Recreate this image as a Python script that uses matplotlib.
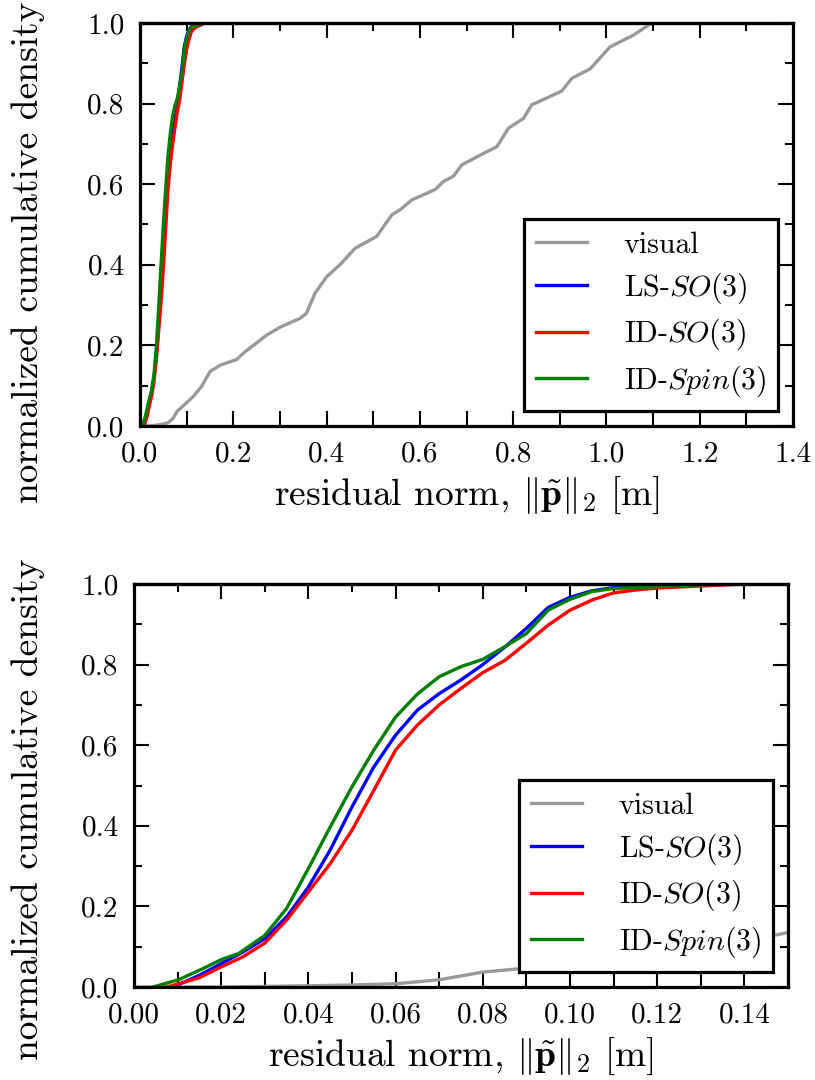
import matplotlib
matplotlib.use('Agg')
import matplotlib.pyplot as plt
from matplotlib.ticker import MultipleLocator, FormatStrFormatter

plt.rcParams['font.family'] = 'cmr10'
plt.rcParams['mathtext.fontset'] = 'cm'
plt.rcParams['axes.unicode_minus'] = False
plt.rcParams['axes.formatter.use_mathtext'] = True

# CDF curves (x = residual norm in m, y = cumulative density)
visual_x = [0.0, 0.02, 0.04, 0.05, 0.06, 0.07, 0.08, 0.09, 0.10, 0.114, 0.132, 0.150, 0.172,
            0.207, 0.225, 0.272, 0.300, 0.343, 0.357, 0.375, 0.400, 0.432, 0.461, 0.507,
            0.540, 0.557, 0.583, 0.633, 0.650, 0.672, 0.690, 0.729, 0.765, 0.790, 0.822,
            0.840, 0.904, 0.926, 0.965, 1.008, 1.058, 1.097]
visual_y = [0.0, 0.0, 0.003, 0.005, 0.008, 0.018, 0.037, 0.047, 0.058, 0.073, 0.098, 0.135, 0.151,
            0.165, 0.184, 0.226, 0.245, 0.267, 0.28, 0.329, 0.37, 0.404, 0.441, 0.47,
            0.524, 0.536, 0.561, 0.587, 0.606, 0.62, 0.648, 0.672, 0.693, 0.739, 0.763,
            0.797, 0.831, 0.863, 0.886, 0.941, 0.970, 1.0]

ls_x = [0.0083, 0.0102, 0.015, 0.020, 0.025, 0.030, 0.035, 0.040, 0.045, 0.050, 0.055, 0.060, 0.065,
        0.070, 0.075, 0.080, 0.085, 0.090, 0.095, 0.100, 0.105, 0.110, 0.115, 0.120, 0.130, 0.140]
ls_y = [0.0, 0.006, 0.029, 0.058, 0.087, 0.12, 0.174, 0.248, 0.34, 0.447, 0.546, 0.625, 0.687,
        0.728, 0.762, 0.80, 0.843, 0.89, 0.942, 0.967, 0.983, 0.991, 0.995, 0.997, 0.999, 1.0]

idso_x = [0.0075, 0.0102, 0.015, 0.020, 0.025, 0.030, 0.035, 0.040, 0.045, 0.050, 0.055, 0.060, 0.065,
          0.070, 0.075, 0.080, 0.085, 0.090, 0.095, 0.100, 0.105, 0.110, 0.115, 0.120, 0.130, 0.140]
idso_y = [0.0, 0.008, 0.023, 0.05, 0.075, 0.109, 0.166, 0.236, 0.306, 0.389, 0.488, 0.588, 0.65,
          0.70, 0.741, 0.78, 0.81, 0.853, 0.898, 0.935, 0.96, 0.978, 0.985, 0.99, 0.995, 1.0]

idspin_x = [0.0044, 0.0102, 0.0159, 0.020, 0.024, 0.030, 0.035, 0.040, 0.045, 0.050, 0.055, 0.060,
            0.065, 0.070, 0.075, 0.080, 0.085, 0.090, 0.095, 0.100, 0.105, 0.110, 0.120, 0.130, 0.140]
idspin_y = [0.0, 0.018, 0.046, 0.068, 0.083, 0.128, 0.195, 0.294, 0.397, 0.497, 0.588, 0.67,
            0.727, 0.77, 0.795, 0.813, 0.844, 0.877, 0.935, 0.962, 0.981, 0.989, 0.993, 0.998, 1.0]

labels = ['visual', r'LS-$SO(3)$', r'ID-$SO(3)$', r'ID-$Spin(3)$']
colors = ['#999999', '#0000ff', '#ff0000', '#007f00']

fig = plt.figure(figsize=(8.15, 10.8), dpi=100)
ax1 = fig.add_axes([140 / 815, 1 - 426 / 1080, 653 / 815, 403 / 1080])
ax2 = fig.add_axes([134 / 815, 1 - 987 / 1080, 654 / 815, 403 / 1080])


def draw(ax, xmax, xmajor, xminor, fmt, ylab_x, ylab_y):
    series = [(visual_x, visual_y), (ls_x, ls_y), (idso_x, idso_y), (idspin_x, idspin_y)]
    for (xs, ys), c, lab in zip(series, colors, labels):
        ax.plot(xs, ys, color=c, lw=2.4, label=lab)
    ax.set_xlim(0, xmax)
    ax.set_ylim(0, 1.0)
    ax.xaxis.set_major_locator(MultipleLocator(xmajor))
    ax.xaxis.set_minor_locator(MultipleLocator(xminor))
    ax.xaxis.set_major_formatter(FormatStrFormatter(fmt))
    ax.yaxis.set_major_locator(MultipleLocator(0.2))
    ax.yaxis.set_minor_locator(MultipleLocator(0.1))
    ax.yaxis.set_major_formatter(FormatStrFormatter('%.1f'))
    for s in ax.spines.values():
        s.set_linewidth(2.3)
    ax.tick_params(which='both', direction='in', width=1.5, labelsize=21, pad=11)
    ax.tick_params(axis='y', which='both', left=True, right=True)
    ax.tick_params(which='major', length=11)
    ax.tick_params(axis='y', which='minor', length=5.5)
    # bottom ticks all long, top ones like the y axis
    ax.tick_params(axis='x', which='minor', length=11, top=False, bottom=True)
    ax.tick_params(axis='x', which='major', top=False, bottom=True)
    top = ax.secondary_xaxis('top')
    top.xaxis.set_major_locator(MultipleLocator(xmajor))
    top.xaxis.set_minor_locator(MultipleLocator(xminor))
    top.tick_params(which='both', direction='in', width=1.5, labeltop=False)
    top.tick_params(which='major', length=11)
    top.tick_params(which='minor', length=5.5)
    top.spines['top'].set_linewidth(2.3)
    ax.set_xlabel(r'residual norm, $\Vert\tilde{\mathbf{p}}\Vert_2$ [m]', fontsize=27, labelpad=5)
    ax.set_ylabel('normalized cumulative density', fontsize=27)
    ax.yaxis.set_label_coords(ylab_x, ylab_y)
    leg = ax.legend(loc='lower right', fontsize=21.5, fancybox=False, framealpha=1,
                    edgecolor='black', handlelength=1.7, handletextpad=1.25,
                    labelspacing=0.38, borderaxespad=0.5, borderpad=0.4)
    leg.get_frame().set_linewidth(2.3)


draw(ax1, 1.4, 0.2, 0.1, '%.1f', -0.145, 0.432)
draw(ax2, 0.15, 0.02, 0.01, '%.2f', -0.136, 0.44)

fig.savefig('out.png', dpi=100)
